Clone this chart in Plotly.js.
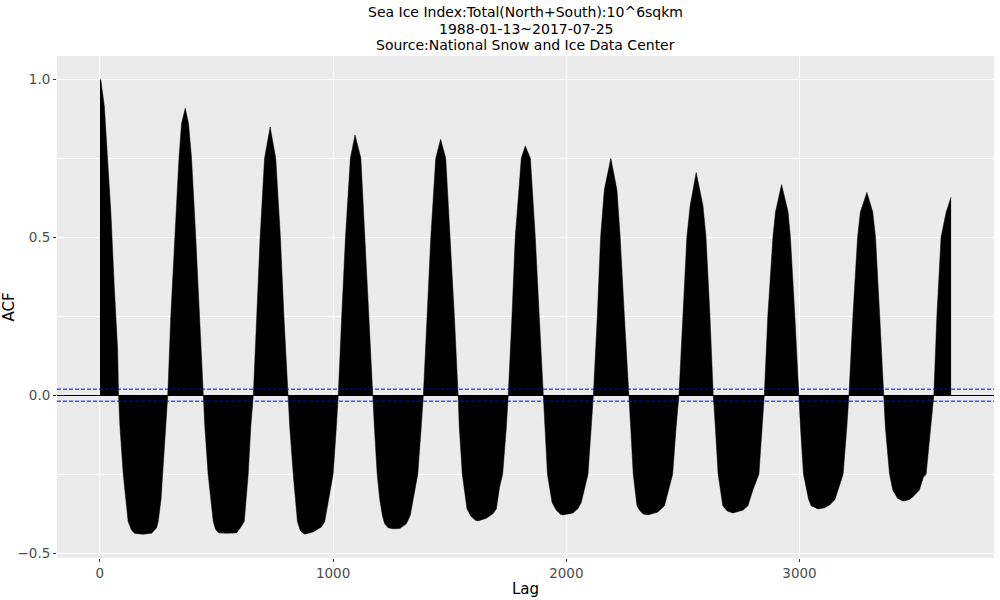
<!DOCTYPE html>
<html>
<head>
<meta charset="utf-8">
<script src="https://cdn.plot.ly/plotly-3.0.1.min.js"></script>
<style>html,body{margin:0;padding:0;background:#fff;}#chart{width:1000px;height:600px;}</style>
</head>
<body>
<div id="chart"></div>
<script>
// Title lines
const titleLines = [
  "Sea Ice Index:Total(North+South):10^6sqkm",
  "1988-01-13~2017-07-25",
  "Source:National Snow and Ice Data Center"
];

// ACF: lag and value at key points of each lobe
const lags = [
  0,4,19,33,47,61,76,80,
  86,100,113,121,136,150,186,222,243,250,262,269,280,291,
  304,321,339,350,366,380,393,411,426,441,
  450,464,486,496,510,543,586,602,619,636,647,658,
  671,687,706,730,754,774,789,805,
  814,829,847,860,879,914,950,964,1000,1014,1022,
  1037,1053,1074,1094,1119,1136,1151,1170,
  1177,1189,1200,1211,1221,1236,1257,1286,1314,1331,1350,1363,1378,1387,
  1403,1419,1440,1461,1483,1503,1520,1536,
  1541,1554,1574,1593,1610,1621,1657,1686,1700,1714,1727,1743,1751,
  1767,1781,1807,1824,1846,1867,1884,1901,
  1906,1919,1939,1957,1975,1986,2029,2050,2064,2079,2093,2107,2116,
  2133,2147,2163,2191,2217,2231,2249,2266,
  2276,2287,2303,2314,2329,2350,2393,2421,2440,2456,2471,2483,
  2500,2517,2531,2557,2586,2599,2616,2630,
  2639,2651,2671,2690,2714,2757,2779,2800,2826,2840,2849,
  2864,2886,2897,2923,2951,2961,2980,2996,
  3004,3017,3039,3050,3079,3105,3129,3152,3169,3187,3203,3212,
  3229,3249,3261,3289,3314,3326,3344,3360,
  3368,3386,3400,3420,3443,3470,3486,3514,3531,3543,3564,3576,
  3589,3607,3629,3650
];
const acf = [
  1.0,0.998,0.915,0.763,0.579,0.353,0.143,0,
  -0.1,-0.25,-0.35,-0.4,-0.428,-0.438,-0.44,-0.437,-0.42,-0.4,-0.33,-0.25,-0.1,0,
  0.25,0.5,0.75,0.86,0.908,0.86,0.75,0.5,0.25,0,
  -0.1,-0.25,-0.4,-0.425,-0.436,-0.437,-0.436,-0.42,-0.4,-0.25,-0.1,0,
  0.25,0.5,0.75,0.849,0.75,0.5,0.25,0,
  -0.1,-0.25,-0.4,-0.43,-0.44,-0.433,-0.417,-0.4,-0.25,-0.1,0,
  0.25,0.5,0.75,0.824,0.75,0.5,0.25,0,
  -0.1,-0.25,-0.33,-0.38,-0.407,-0.42,-0.423,-0.422,-0.407,-0.38,-0.3,-0.25,-0.1,0,
  0.25,0.5,0.75,0.81,0.75,0.5,0.25,0,
  -0.1,-0.25,-0.36,-0.385,-0.396,-0.398,-0.39,-0.375,-0.36,-0.29,-0.25,-0.1,0,
  0.25,0.5,0.75,0.789,0.75,0.5,0.25,0,
  -0.1,-0.25,-0.34,-0.364,-0.377,-0.379,-0.373,-0.359,-0.34,-0.29,-0.25,-0.1,0,
  0.25,0.5,0.65,0.75,0.65,0.5,0.25,0,
  -0.1,-0.25,-0.35,-0.364,-0.376,-0.379,-0.37,-0.35,-0.3,-0.25,-0.1,0,
  0.25,0.5,0.6,0.705,0.6,0.5,0.25,0,
  -0.1,-0.25,-0.35,-0.367,-0.373,-0.364,-0.35,-0.3,-0.25,-0.1,0,
  0.25,0.5,0.58,0.667,0.58,0.5,0.25,0,
  -0.1,-0.25,-0.33,-0.35,-0.36,-0.357,-0.348,-0.33,-0.29,-0.25,-0.1,0,
  0.25,0.5,0.58,0.642,0.58,0.5,0.25,0,
  -0.1,-0.25,-0.3,-0.326,-0.335,-0.331,-0.322,-0.3,-0.26,-0.25,-0.1,0,
  0.25,0.5,0.58,0.627
];

// Confidence bound (+/-)
const ciBound = [0.019, -0.019];

// Axis ticks
const xTicks = [0, 1000, 2000, 3000];
const xTickLabels = ["0", "1000", "2000", "3000"];
const yTicks = [-0.5, 0, 0.5, 1.0];
const yTickLabels = ["\u22120.5", "0.0", "0.5", "1.0"];

const FONT = "DejaVu Sans, Verdana, sans-serif";

const trace = {
  type: "scatter",
  mode: "lines",
  x: lags,
  y: acf,
  fill: "tozeroy",
  fillcolor: "#000000",
  line: {color: "#000000", width: 0.5},
  hoverinfo: "x+y",
  showlegend: false
};

const shapes = ciBound.map(v => ({
  type: "line", xref: "paper", x0: 0, x1: 1, yref: "y", y0: v, y1: v,
  line: {color: "#0000FF", width: 1, dash: "4px,2px"}, layer: "above"
}));

const titleY = [12, 28.5, 45];
const annotations = titleLines.map((t, i) => ({
  text: t, showarrow: false, xref: "paper", x: 0.5, xanchor: "center",
  yref: "paper", y: 1 + (56 - titleY[i]) / 502, yanchor: "middle",
  font: {family: FONT, size: 14, color: "#000000"}
}));

const layout = {
  width: 1000, height: 600,
  margin: {l: 57, r: 6, t: 56, b: 42, pad: 0},
  paper_bgcolor: "#FFFFFF",
  plot_bgcolor: "#EBEBEB",
  showlegend: false,
  annotations: annotations,
  shapes: shapes,
  xaxis: {
    range: [-184, 3834],
    tickmode: "array", tickvals: xTicks, ticktext: xTickLabels,
    ticks: "outside", ticklen: 3, tickwidth: 1, tickcolor: "#333333",
    tickfont: {family: FONT, size: 13.5, color: "#4D4D4D"},
    showgrid: true, gridcolor: "#FFFFFF", gridwidth: 1.1,
    zeroline: false, showline: false,
    title: {text: "Lag", font: {family: FONT, size: 15, color: "#000000"}, standoff: 3}
  },
  yaxis: {
    range: [-0.5155, 1.0738],
    tickmode: "array", tickvals: yTicks, ticktext: yTickLabels,
    ticks: "outside", ticklen: 3, tickwidth: 1, tickcolor: "#333333",
    tickfont: {family: FONT, size: 13.5, color: "#4D4D4D"},
    showgrid: true, gridcolor: "#FFFFFF", gridwidth: 1.1,
    minor: {tickmode: "array", tickvals: [-0.25, 0.25, 0.75], showgrid: true, gridcolor: "#FFFFFF", gridwidth: 1, ticks: ""},
    zeroline: true, zerolinecolor: "#000000", zerolinewidth: 1,
    showline: false,
    title: {text: "ACF", font: {family: FONT, size: 15, color: "#000000"}, standoff: 1}
  }
};

Plotly.newPlot("chart", [trace], layout, {displayModeBar: false, staticPlot: true});
</script>
</body>
</html>
